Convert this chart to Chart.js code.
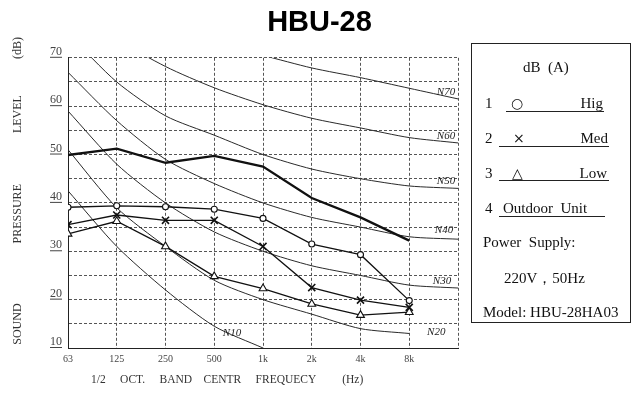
<!DOCTYPE html>
<html><head><meta charset="utf-8">
<script src="https://cdn.jsdelivr.net/npm/chart.js@4/dist/chart.umd.min.js"></script>
<style>
html,body{margin:0;padding:0;background:#fff;}
#wrap{position:relative;width:639px;height:403px;overflow:hidden;}
#c{position:absolute;left:0;top:0;}
#box{position:absolute;left:471px;top:43px;width:158px;height:278px;border:1px solid #222;font-family:'Liberation Serif','DejaVu Serif',serif;font-size:15px;color:#111;}
#box div{position:absolute;white-space:pre;line-height:15px;}
#box .ul{height:0;border-bottom:1px solid #222;}
#box .sym{font-family:'DejaVu Sans',sans-serif;font-size:14px;}
</style></head><body>
<div id="wrap"><canvas id="c" width="639" height="403"></canvas>
<div id="box">
  <div style="left:51px;top:16px;">dB  (A)</div>
  <div style="left:13px;top:52px;">1</div>
  <div class="ul" style="left:34px;width:98px;top:67px;"></div>
  <div class="sym" style="left:39px;top:52px;">○</div>
  <div style="right:27px;top:52px;">Hig</div>
  <div style="left:13px;top:87px;">2</div>
  <div class="ul" style="left:27px;width:110px;top:102px;"></div>
  <div class="sym" style="left:41px;top:87px;">×</div>
  <div style="right:22px;top:87px;">Med</div>
  <div style="left:13px;top:122px;">3</div>
  <div class="ul" style="left:27px;width:110px;top:136px;"></div>
  <div class="sym" style="left:40px;top:122px;">△</div>
  <div style="right:23px;top:122px;">Low</div>
  <div style="left:13px;top:157px;">4</div>
  <div class="ul" style="left:27px;width:106px;top:172px;"></div>
  <div style="left:31px;top:157px;">Outdoor  Unit</div>
  <div style="left:11px;top:191px;">Power  Supply:</div>
  <div style="left:32px;top:227px;">220V，50Hz</div>
  <div style="left:11px;top:261px;">Model: HBU-28HA03</div>
</div>
</div>
<script>
// ---- data ----
const bands = ['63','125','250','500','1k','2k','4k','8k'];
const hig      = [39.1, 39.4, 39.2, 38.7, 36.8, 31.5, 29.3, 19.8];
const med      = [35.5, 37.5, 36.4, 36.4, 31.0, 22.5, 19.9, 18.4];
const low      = [33.6, 36.2, 31.0, 24.8, 22.3, 19.1, 16.8, 17.4];
const outdoor  = [49.9, 51.2, 48.3, 49.7, 47.5, 41.0, 37.0, 32.2];
// noise-rating reference curves (last value = right frame edge)
const n70 = [91, 83, 77, 73, 70.5, 67.9, 65.9, 63.7, 61.5];
const n60 = [83, 74, 68.2, 63.8, 60.3, 57.5, 55.5, 53.5, 52.4];
const n50 = [75, 65, 58, 54, 50, 47, 45, 43.5, 43];
const n40 = [67, 57, 49, 44, 40, 37, 35, 33, 32.5];
const n30 = [59, 48, 40, 34, 30, 27, 25, 23, 22.4];
const n20 = [51, 39, 31, 24, 20, 17, 14, 13];
const n10 = [42.5, 31, 22, 14.5, 10];
const nrNames = ['N70','N60','N50','N40','N30','N20','N10'];
const yLabels = [10, 20, 30, 40, 50, 60, 70];

const toXY = arr => arr.map((v, i) => ({x: i, y: v}));
const serif = "'Liberation Serif','DejaVu Serif',serif";

const series = [
  {label:'Hig', data: toXY(hig), pointStyle:'circle', pointRadius:3, borderWidth:1.3, pointBorderWidth:1.1},
  {label:'Med', data: toXY(med), pointStyle:'crossRot', pointRadius:5, borderWidth:1.3, pointBorderWidth:1.6},
  {label:'Low', data: toXY(low), pointStyle:'triangle', pointRadius:4.5, borderWidth:1.3, pointBorderWidth:1.1},
  {label:'Outdoor Unit', data: toXY(outdoor), pointRadius:0, borderWidth:2.3}
].map(d => Object.assign({borderColor:'#111', backgroundColor:'#fff', pointBackgroundColor:'#fff', pointBorderColor:'#111', tension:0, order:1}, d));

const nrData = [n70, n60, n50, n40, n30, n20, n10];
const nrSets = nrData.map((arr, i) => ({
  label: nrNames[i], data: toXY(arr), borderColor:'#2a2a2a', borderWidth:1, pointRadius:0, tension:0.25, order:2, isNR:true
}));

const deco = {
  id:'deco',
  afterDatasetsDraw(chart, args, opts){
    const ctx = chart.ctx;
    ctx.save();
    ctx.font = 'italic 11px ' + serif;
    ctx.fillStyle = '#222';
    ctx.textAlign = 'center';
    ctx.textBaseline = 'middle';
    chart.data.datasets.forEach((ds, i) => {
      if (!ds.isNR) return;
      const k = nrNames.indexOf(ds.label);
      const pts = chart.getDatasetMeta(i).data;
      const p = pts[pts.length - 1];
      const off = opts.offsets[k];
      ctx.fillText(ds.label, p.x + off[0], p.y + off[1]);
    });
    ctx.restore();
  },
  afterDraw(chart){
    const ctx = chart.ctx, ys = chart.scales.y;
    ctx.save();
    ctx.strokeStyle = '#444'; ctx.lineWidth = 1;
    ctx.font = '12px ' + serif;
    yLabels.forEach(v => {
      const y = ys.getPixelForValue(v);
      const w = ctx.measureText(String(v)).width;
      ctx.beginPath(); ctx.moveTo(62 - w, y - 0.5); ctx.lineTo(62, y - 0.5); ctx.stroke();
    });
    ctx.restore();
  }
};

const sp = n => ' '.repeat(n);

new Chart(document.getElementById('c'), {
  type:'line',
  data:{ datasets: [...series, ...nrSets] },
  plugins:[deco],
  options:{
    responsive:false, animation:false, devicePixelRatio:1,
    layout:{padding:0},
    plugins:{
      legend:{display:false}, tooltip:{enabled:false},
      title:{display:true, text:'HBU-28', color:'#000', font:{family:"'Liberation Sans',Arial,sans-serif", size:29, weight:'bold'}, padding:{top:6, bottom:17}},
      deco:{offsets:[[-12,-7],[-12,-7],[-12,-7],[-14,-9],[-16,-7],[27,-1],[-31,-15]]}
    },
    scales:{
      x:{type:'linear', min:0, max:8,
        afterFit: s => { s.height = 55; },
        grid:{color:'#555', lineWidth:1, drawTicks:false},
        border:{color:'#222', width:1, dash:[3,2]},
        ticks:{stepSize:1, padding:5, color:'#444', font:{family:serif, size:10}, maxRotation:0, autoSkip:false,
          callback: v => bands[v] !== undefined ? bands[v] : ''},
        title:{display:true, align:'start',
          text: sp(8) + '1/2' + sp(5) + 'OCT.' + sp(5) + 'BAND' + sp(4) + 'CENTR' + sp(5) + 'FREQUECY' + sp(9) + '(Hz)',
          color:'#333', font:{family:serif, size:11.5}, padding:{top:0, bottom:16}}
      },
      y:{type:'linear', min:10, max:70,
        afterFit: s => { s.width = 68; },
        grid:{color:'#555', lineWidth:1, drawTicks:false},
        border:{color:'#222', width:1, dash:[3,2]},
        ticks:{stepSize:5, padding:6, labelOffset:-6, color:'#444', font:{family:serif, size:12},
          callback: v => yLabels.includes(v) ? String(v) : ''},
        title:{display:true,
          text: sp(8) + 'SOUND' + sp(20) + 'PRESSURE' + sp(17) + 'LEVEL' + sp(12) + '(dB)',
          color:'#333', font:{family:serif, size:12}, padding:{top:11, bottom:0}}
      },
      yr:{type:'linear', position:'right', display:true,
        afterFit: s => { s.width = 181; },
        grid:{display:false, drawOnChartArea:false}, border:{display:false},
        ticks:{display:false}}
    }
  }
});
</script>
</body></html>
